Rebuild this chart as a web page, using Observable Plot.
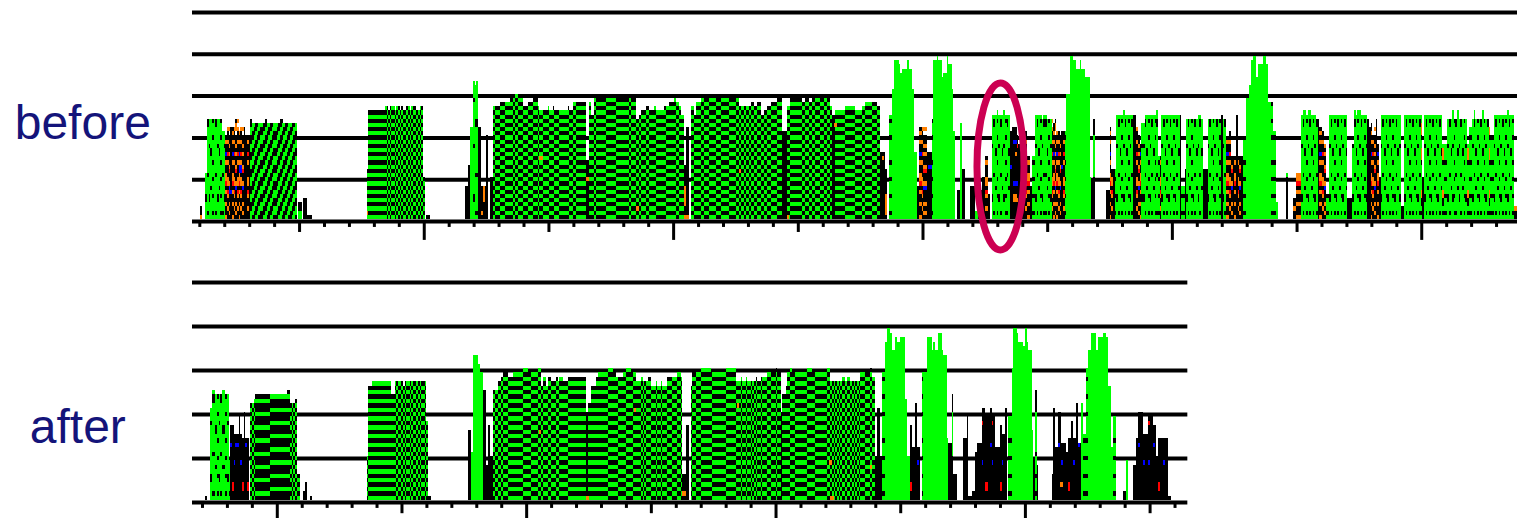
<!DOCTYPE html>
<html>
<head>
<meta charset="utf-8">
<script src="https://cdn.jsdelivr.net/npm/d3@7"></script>
<script src="https://cdn.jsdelivr.net/npm/@observablehq/plot@0.6"></script>
<style>
html,body{margin:0;padding:0;background:#fff;overflow:hidden}
svg{display:block;overflow:visible}
</style>
</head>
<body>
<div id="chart"></div>
<script>
// Column stacks, bottom row first: g green, k black, o orange, r red, b blue, . empty
const palette = {g:"#00ff00", k:"#000000", o:"#ff8000", r:"#ff0000", b:"#0000ff"};
const stacks = {
  A:"gkgkgkgkgkgkgkgkgkgkgkgkgkgkgkgkgkgkgkgk",
  B:"kgkgkgkgkgkgkgkgkgkgkgkgkgkgkgkgkgkgkgkg",
  C:"ggkkggkkggkkggkkggkkggkkggkkggkkggkkggkk",
  D:"kggkkggkkggkkggkkggkkggkkggkkggkkggkkggk",
  E:"kkggkkggkkggkkggkkggkkggkkggkkggkkggkkgg",
  F:"gkkggkkggkkggkkggkkggkkggkkggkkggkkggkkg",
  G:"gggggggggggggggggggggggggggggggggggggggg",
  H:"ggggkkgggggggggggkggggggggggkgggggggggkg",
  I:"gkggggggggkgggggggggggkkgggggggggggkgggg",
  J:"gggggggkgggggggkkgggggggggggggkgggggggkg",
  K:"kkkkkkkkkkkkkkkkkkkkkkkkkkkkkkkkkkkkkkkk",
  L:"gkgggkgggkgggkgggggkgggkgggkggggkgggkggk",
  M:"okkokkokrookkokbkkokokk.kokok.kko",
  N:"kkokkorkookkkokrkkokko.ok.okkokk",
  P:"kokokkkbokkrokkokokk.ookkok.ok.k",
  Q:"kkkkkkkkkkkkbkkkkkkkkkkkkkkkkkkk",
  R:"kkrrkkkkkkkkkkkkkkkkkkkbkkkkkkkk",
  T:"kkkkkkkkbkkkkkkkkrkkkkkkkkkkkkkk",
  U:"kgkkgkkgkkgkkgkkgkkgkkgkkgkkgkkgkkgkkgkk",
  V:"gkkgkkgkkgkkgkkgkkgkkgkkgkkgkkgkkgkkgkkg",
  Y:"kkgkkgkkgkkgkkgkkgkkgkkgkkgkkgkkgkkgkkgk",
  W:"kkkkkkkkkkggggggggggkkkkkkkkkkkk",
  X:"gkgkkooggggggkoooggkoooggkggggk",
  Z:"gkgggkggggkgggggggggkkkkkkkkkkkk"
};

// Runs: [first column, "count+stack+height ..."]
const beforeRuns = [
  [5,"1K3"],
  [8,"1H11 1I24 1H24 1J24 1L24 1G24 1I24 1H24 1J24 1L24 1I21 1H21"],
  [20,"1M20 1N22 1P22 1K22 1M22 1N22 1P24 1N24 1M21 1N22 1P22 1K22 1K20 1N20 1K20"],
  [35,"1C24 1D23 1E23 1F23 1C23 1D23 2E23 1F23 1C24 1D23 1E23 1F23 1C23 2D23 1E23 1F23 1C24 1D24 1E23 1F23 1C23 1D23 1E23 1F23 1C23 1D23"],
  [64,"2C4"],[67,"2K5"],[69,"3K1"],
  [105,"1A12 10A26 1A27 1B27 1A26 1B27 2A27 1B26 1A27 1B27 1A26 1B27 2A26 1B27 1A27 1B26 1A27 2B27 1A26 1B26 1A27 1B27 1A10"],
  [141,"2K1"],
  [164,"2K8 1K13 2G22 1H33 1I32 1I33 2K22 1K8 2K8 1K20"],
  [179,"2K10"],
  [181,"1A27 3B27 3A28 3B28 2B29 1A30 2B30 3A29 3B27 3A28 3B29 1A27 2B26 3A26 1A27 2B26 1B27 3A26 5B26 1B27 2A26 2B28 6A28 2K14 1B28 2B25 1A29 6B29 5A30 1A29 8B29 1A29 3B29 2A24 1B25 3A26 2B27 3A26 1A27 5B26 1B27 2A27 3A28 1A29 2B28 1A27 2A25 1K13 2K22"],
  [300,"2A27 1B25 3B28 2A29 3B29 4A29 3B29 5A30 4B29 2A30 1B27 2A27 1B27 2A27 1B27 2A28 2B27 2A28 2B25 2A26 2B27 4A28 3B29 3K21 2A27 7B29 2A28 2B29 2A28 2B29 3A29 2B29 2A29 2B29 1A27 2K25 6B26 6A27 4B26 2A27 4B28 3A28 2B27 3K16 1K12"],
  [419,"2L25"],
  [421,"1G31 3G38 1G37 1G35 3G36 1G38 2G36 1G31 2G16"],
  [436,"1K8 2M22 1N22 2P22 1K16 2Q16"],
  [445,"1L24 2G38 1G39 2G38 1G34 2G35 1G39 2G37 1G31 1G21"],
  [460,"2K7 1G23 2K12"],
  [468,"3K8 2G2 2K7 2K10 2N15 1K6"],
  [481,"1H25 1I25 1J25 1L26 1H25 1I25 1J25 1H26 1L25 1I25 1J25"],
  [492,"1Q21 3K22 1T20 2K18 2K19 1N21 2M15 1K8"],
  [505,"2L15 1H25 1I25 1J25 1L25 1H24 2I25 1J24 1L24 1H24"],
  [517,"1N24 1M23 1P24 1M21 1N21 1P21 1Q21 1N21 1L21"],
  [526,"2G30 2G39 2G38 2G36 1G38 2G36 3G34 1G10"],
  [541,"1K9 1W24"],
  [550,"2K7 1M22 1N12 1K12"],
  [555,"1L12 1H25 1I25 1J25 1L25 1H26 1I25 1J25 1L25 1H25 1I25"],
  [566,"2K25 1N22 1P21 1M18"],
  [571,"2H23 1I25 1J25 1L25 1H25 1I25 1J25 1L25 1I26 1L15 1N15"],
  [583,"1H25 1I25 1J25 1L25 1H25 1I25 1J25 1L25 1H25 1I25 1J25"],
  [594,"1K25 2L8 1K12"],
  [598,"1H24 1I24 1J24 1L24 1H24 1I24 1J24 1H25 1I25 1J24 3K12"],
  [611,"1H24 1I24 1J24 1L24 1H24 1I24 1J24 1L24 1K25 1H24 1I24"],
  [622,"2M19 1N21 1P15 1K15 1M15 1K25 1N15 1P15 1K15 2L19"],
  [634,"2G29 1G32 1G38 2G39 1G34 3G37 2G39 1G37 2G28 1L28 2L21 1G4"],
  [658,"1W11"],[662,"2N5"],[664,"3M11"],
  [667,"1H25 1I26 1J26 1L25 1H26 1I26 1J25 1L25 1H25 1I24"],
  [677,"1K24 2M22 1N21 1P18 2L6"],
  [684,"1H25 1I25 1J25 1L25 1H25 1I25 1J25 1L25 1H25 1I25 1J25"],
  [695,"3K5"],
  [698,"1H18 1I26 1J25 1L26 1H26 1I25 1J25 1L25 1H25 1K24"],
  [708,"1K22 1M24 1N20 1P22 1K24 1M18 1K10"],
  [715,"1H25 1I25 1J25 1L25 1H25 1I25 1J25 1L25 1H25 1I25 1J25 1H25 2K3"],
  [729,"1H25 1I25 1J25 1L25 1H25 1I25 1J25 1L25 1H25 1I25 1X25 1K10"],
  [741,"1H25 1I25 1J25 1L25 1H25 1I25 1J25 1L25 1H25 1I25 1J25"],
  [752,"1X18 2L18"],
  [755,"1H24 1I24 1J24 1H26 1L24 1I24 1J26 1H24 1I24 1J24 1L24 1H24 1X18 2L22"],
  [770,"1H24 1I26 1J24 1L24 1H24 1I24 1J26 1L24 1H24 1I24 1X22 2L20"],
  [783,"1H25 1I25 1J25 1L25 1H25 1I25 1J25 1L25 1H26 1I25 1J25 1L25 2N3"]
];
const beforeAccents = [
  [5,0,"o"],[28,11,"b"],[28,12,"b"],[29,11,"b"],[29,12,"b"],[22,6,"b"],[22,7,"b"],[23,6,"b"],
  [105,1,"o"],[175,4,"o"],[175,5,"o"],[175,6,"o"],[175,7,"o"],[174,1,"o"],
  [209,14,"o"],[210,14,"o"],[237,9,"o"],[238,9,"o"],[267,2,"o"],[268,2,"o"],
  [296,0,"o"],[297,0,"o"],[296,3,"o"],[296,4,"o"],[296,5,"o"],[296,6,"o"],[296,7,"o"],[298,0,"o"],
  [329,11,"o"],[358,0,"o"],[386,22,"o"],[387,22,"o"],[415,14,"o"],
  [417,1,"o"],[417,2,"o"],[417,3,"o"],[417,4,"o"],[417,5,"o"],
  [494,18,"b"],[495,18,"b"],[494,8,"b"],[495,8,"b"],[496,8,"b"],[494,4,"o"],[495,4,"o"],[496,4,"o"],[494,5,"o"],[495,5,"o"],[495,15,"o"]
];

const afterRuns = [
  [8,"1K1"],
  [11,"1H21 2I25 1J24 1L24 1H24 1I24 2J25 1L24 1H24 2I9"],
  [23,"1Q17 1R17 1T15 2Q15 1K19 1T15 1R14 1K20 1Q14 1R14"],
  [35,"1A22 1B22 1A23 9U24 10Y24 2Y25 1A22 1B22 1A22 1B23"],
  [63,"2A6"],[67,"1K2 1K4"],[71,"1K1"],
  [105,"1B10 2A26 12A27 2A24 1A27 1B27 2A27 1B27 1A26 1B27 2A27 1B27 1A27 2B27 1A27 1B27 1A27 2B27 1A27 2B18"],
  [142,"2K1"],
  [166,"2K16 1G11 3G33 1G31 2G29 2K25 1K8 1K17"],
  [179,"2K10"],
  [181,"1B25 2A25 2B27 1A28 3B29 3A28 6A29 3B30 2B29 4A29 2B30 1A26 2B28 1B26 2A28 3B27 1A28 1A27 2B28 3B27 11A28 1K20 2A22 3A26 1A28 6A29 3B30 2B29 1B28 3A28 2A29 3B30 1B29 2A29 3A27 1B28 1A27 1B27 1A27 2A28 3B26 1A27 2B26 1A27 3B26 3A28 3B28 2A29 1B28 2K6 2K17"],
  [300,"1A26 2B29 3A29 6B30 1B29 8A29 6B30 3A27 1B28 2A27 1B28 2A27 1B27 1A27 1B27 1A28 2B27 1A28 3B28 2A29 3B29 1A30 2B29 1K20 2A24 1A26 2A29 1B30 2B29 7A29 3B30 2B29 7A29 2B30 1A27 1B27 1A27 1B27 1A27 1B27 1A27 2B28 1A27 2B28 1A27 1B27 1A27 1B27 1A27 1B27 3A29 3B29 1A30 2B28 1K10 2K21 1K10"],
  [415,"2L29 1G36 2G39 1G38 2G34 1G37 2G36 3G37 1G23 2G10"],
  [432,"1R17 2K12 1K22 1T12 1K12"],
  [439,"1L29 2G29 3G37 1G34 1G36 2G34 2G38 1G34 2G33 1G14"],
  [455,"2K13 1W24 2K6"],
  [464,"2K14 1K19"],
  [467,"2K1 1K2 1K2"],
  [471,"1K11 2K13 1K13 1T21 1K21 2R19 1K19 1Q21 1T19 1K19 2Q12 1K12 1R17 1T15 1K15 1K21"],
  [491,"2L19 1G30 2G39 1G38 2G36 1G36 1G35 1G39 1G36 2G34 2G16"],
  [506,"1K9 1Z25 1K8"],
  [517,"1K6 1K21 2K12 1Q20 1K20 1T13 2K13 1K11 1R14 1K14 1K18 1T14 1K14 1K22 1Q13 1K13 1G22 2L15"],
  [538,"1L30 2G34 3G38 1G34 3G37 2G38 1G37 2G26 1G12 2L19"],
  [560,"2K2 1G9"],
  [566,"2K8 1K14 1Q20 2K20 1T15 1K15 1K15 1T19 2K19 1Q17 1K17 1K10 1R14 2K14 1T14 2K14 2K1"]
];
const afterAccents = [
  [209,15,"o"],[237,0,"o"],[238,0,"o"],[266,20,"o"],[295,1,"o"],[296,1,"o"],
  [328,21,"o"],[384,0,"o"],[385,0,"o"],[384,20,"g"],[383,8,"o"],[384,8,"o"],
  [408,7,"o"],[522,3,"o"],[523,3,"o"]
];

const tickStep = 15;
const BLACK = "#000";
const LABEL = "#14147a";
const RING = "#cc0052";

function toCells(runs, accents) {
  const cols = new Map();
  for (const [start, tokens] of runs) {
    let c = start;
    for (const t of tokens.split(" ")) {
      const m = /^(\d+)([A-Z])(\d+)$/.exec(t);
      for (let i = 0; i < +m[1]; i++) cols.set(c++, Array.from(stacks[m[2]].slice(0, +m[3])));
    }
  }
  for (const [c, r, ch] of accents) { if (cols.has(c) && r < cols.get(c).length) cols.get(c)[r] = ch; }
  const cells = [];
  for (const [c, stack] of cols) {
    let r = 0;
    while (r < stack.length) {
      let e = r + 1;
      while (e < stack.length && stack[e] === stack[r]) e++;
      if (stack[r] !== ".") cells.push({c, r0: r, r1: e, color: palette[stack[r]]});
      r = e;
    }
  }
  return cells;
}

function panel({runs, accents, height, base, rowPx, xMax, gridRows, ticks, label, labelX, labelY, lens, ring}) {
  const cols = d3.range(ticks.count).map(i => ticks.first + i * tickStep).filter(c => c <= xMax);
  const klass = i => ticks.kind(i);
  const marks = [
    Plot.ruleY(gridRows, {x1: 0, x2: xMax, stroke: BLACK, strokeWidth: 4}),
    Plot.rect(toCells(runs, accents), {
      x1: "c", x2: d => d.c + 1, y1: "r0", y2: "r1", fill: "color", inset: 0, shapeRendering: "crispEdges"
    }),
    Plot.ruleX(cols.filter((c, i) => klass(i) === 0), {y1: lens[0][0], y2: lens[0][1], stroke: BLACK, strokeWidth: 3}),
    Plot.ruleX(cols.filter((c, i) => klass(i) === 1), {y1: lens[1][0], y2: lens[1][1], stroke: BLACK, strokeWidth: 3}),
    Plot.ruleX(cols.filter((c, i) => klass(i) === 2), {y1: lens[2][0], y2: lens[2][1], stroke: BLACK, strokeWidth: 3}),
    Plot.text([label], {
      x: labelX, y: labelY, text: d => d, fontSize: 48, fontFamily: "Liberation Sans, Arial, sans-serif",
      fill: LABEL, textAnchor: "middle", lineAnchor: "middle"
    })
  ];
  if (ring) {
    const rx = 23.5, ry = 83.5, kp = 0.5523;
    const symbol = {draw(ctx) {
      ctx.moveTo(rx, 0);
      ctx.bezierCurveTo(rx, kp * ry, kp * rx, ry, 0, ry);
      ctx.bezierCurveTo(-kp * rx, ry, -rx, kp * ry, -rx, 0);
      ctx.bezierCurveTo(-rx, -kp * ry, -kp * rx, -ry, 0, -ry);
      ctx.bezierCurveTo(kp * rx, -ry, rx, -kp * ry, rx, 0);
      ctx.closePath();
    }};
    marks.push(Plot.dot([ring], {x: "c", y: "r", symbol, r: 1, stroke: RING, strokeWidth: 7, fill: "none"}));
  }
  return Plot.plot({
    width: 1517, height,
    marginLeft: 192, marginRight: 0, marginTop: 0, marginBottom: 0,
    x: {domain: [0, 797], axis: null},
    y: {domain: [0, 50], range: [base, base - 50 * rowPx], axis: null},
    marks
  });
}

const chart = document.getElementById("chart");
chart.append(panel({
  runs: beforeRuns, accents: beforeAccents, height: 260, base: 219, rowPx: 4.18, xMax: 797,
  gridRows: [-0.48, 9.52, 19.52, 29.52, 39.52, 49.52],
  ticks: {first: 4.4, count: 54, kind: i => (i % 5 !== 4 ? 0 : ((i - 4) / 5) % 2 === 0 ? 1 : 2)},
  lens: [[-0.48, -1.9], [-0.48, -3.1], [-0.48, -5]],
  label: "before", labelX: -66, labelY: 23, ring: {c: 486, r: 12.7}
}));
chart.append(panel({
  runs: afterRuns, accents: afterAccents, height: 258, base: 240, rowPx: 4.4, xMax: 598.7,
  gridRows: [-0.45, 9.55, 19.55, 29.55, 39.55, 49.55],
  ticks: {first: 6, count: 40, kind: i => (i % 5 !== 3 ? 0 : ((i - 3) / 5) % 2 === 0 ? 2 : 1)},
  lens: [[-0.45, -1.8], [-0.45, -3], [-0.45, -4.1]],
  label: "after", labelX: -69, labelY: 16.6
}));
</script>
</body>
</html>
